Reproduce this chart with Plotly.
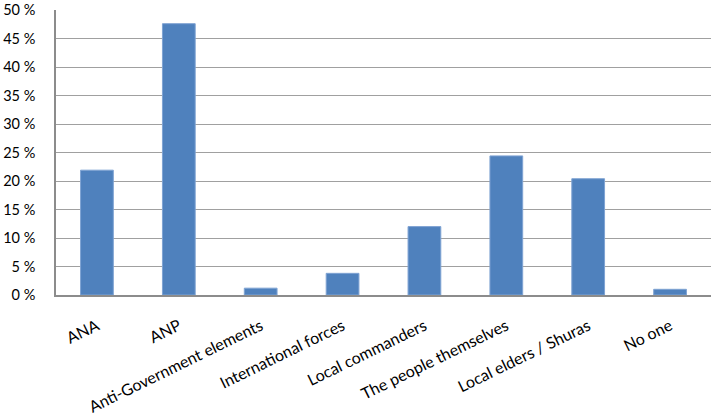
import plotly.graph_objects as go

categories = ["ANA", "ANP", "Anti-Government elements", "International forces",
              "Local commanders", "The people themselves", "Local elders / Shuras", "No one"]
values = [21.9, 47.6, 1.2, 3.8, 12.0, 24.4, 20.4, 1.0]
y_ticks = [0, 5, 10, 15, 20, 25, 30, 35, 40, 45, 50]

fig = go.Figure(go.Bar(
    x=categories, y=values,
    marker=dict(color="#4F81BD", line=dict(color="#7FA3D3", width=1)),
))

fig.update_layout(
    width=711, height=420,
    margin=dict(l=56, r=0, t=10, b=125),
    paper_bgcolor="white", plot_bgcolor="white",
    bargap=0.6,
    showlegend=False,
    font=dict(family="Lato, Carlito, Calibri, sans-serif", size=14, color="#000000"),
)
fig.update_xaxes(
    tickangle=-26, showline=True, linecolor="#8c8c8c", linewidth=1.5,
    showgrid=False, ticks="", tickfont=dict(size=16), automargin=False,
    ticklabelstandoff=14,
)
fig.update_yaxes(
    range=[0, 50], tickvals=y_ticks, ticktext=[f"{v} %" for v in y_ticks],
    showline=True, linecolor="#8c8c8c", linewidth=1.5,
    showgrid=True, gridcolor="#a0a0a0", gridwidth=1.3,
    zeroline=False, ticks="", ticklabelstandoff=16, tickfont=dict(size=14.5),
    automargin=False,
)

fig.write_html("out.html", config={"displayModeBar": False},
               post_script="document.body.style.margin='0';document.body.style.overflow='hidden';")
